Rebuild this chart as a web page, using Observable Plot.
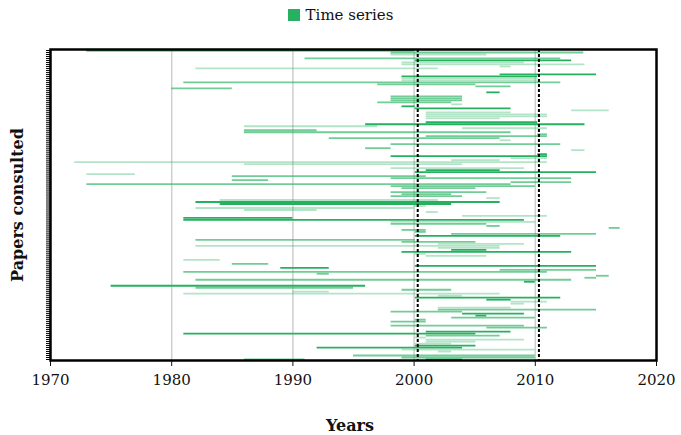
<!DOCTYPE html>
<html>
<head>
<meta charset="utf-8">
<script src="https://cdn.jsdelivr.net/npm/d3@7"></script>
<script src="https://cdn.jsdelivr.net/npm/@observablehq/plot@0.6"></script>
<style>
  html, body { margin: 0; padding: 0; background: #fff; }
  body { width: 681px; height: 435px; overflow: hidden; font-family: "DejaVu Serif", serif; }
  #legend { height: 30px; display: flex; align-items: center; justify-content: center; font-size: 15px; color: #111; }
  #legend .sw { width: 12px; height: 12px; background: #25b15f; margin-right: 6px; display: inline-block; }
</style>
</head>
<body>
<div id="legend"><span class="sw"></span><span>Time series</span></div>
<div id="chart"></div>
<script>
// Each segment: [paper row (0 = top), start year, end year, shade]
// shade: "d" = dark, "m" = medium, "l" = light
const segments = [
  [0, 1973, 2000, "d"],
  [1, 1998.1, 2014, "m"],
  [2, 1998.1, 2006, "l"],
  [4, 1991, 2012.1, "m"],
  [5, 2000.1, 2013, "d"],
  [6, 1999, 2009.1, "l"],
  [7, 1999, 2014.1, "l"],
  [8, 2007.1, 2008, "l"],
  [9, 1982, 2002, "l"],
  [12, 2007.1, 2015.05, "d"],
  [13, 1999, 2010.2, "d"],
  [14, 1999, 2010.2, "l"],
  [15, 1999, 2010.2, "l"],
  [16, 1981, 2012.1, "m"],
  [17, 1997, 2005.1, "m"],
  [18, 2005.1, 2008, "m"],
  [19, 1980, 1985, "m"],
  [21, 2006, 2007.1, "d"],
  [23, 1998.1, 2004, "m"],
  [24, 1998.1, 2004, "m"],
  [25, 1998.1, 2004, "m"],
  [26, 1997, 2003.1, "m"],
  [27, 2003.1, 2004, "l"],
  [28, 1999, 2000.1, "d"],
  [29, 2000.1, 2008, "d"],
  [30, 2013, 2016.1, "l"],
  [31, 2001, 2008, "l"],
  [32, 2001, 2011, "l"],
  [33, 2001, 2011, "l"],
  [34, 2001, 2007.1, "l"],
  [36, 2001, 2010.2, "d"],
  [37, 1996, 2014.1, "d"],
  [38, 1986, 1997, "l"],
  [39, 2004, 2011, "l"],
  [40, 1986, 1992, "m"],
  [41, 1986, 2008, "m"],
  [42, 2010.2, 2011, "m"],
  [43, 2001, 2011, "m"],
  [44, 1993, 2007.1, "m"],
  [45, 2007.1, 2008, "l"],
  [47, 1998.1, 2012.1, "m"],
  [49, 1996, 1998.1, "m"],
  [50, 2013, 2014.1, "l"],
  [52, 2010.2, 2011, "d"],
  [53, 1998.1, 2011, "d"],
  [54, 2008, 2011, "l"],
  [55, 2003.1, 2007.1, "l"],
  [56, 1972, 2011, "l"],
  [57, 1986, 2004, "l"],
  [59, 1998.1, 2009.1, "l"],
  [60, 2001, 2007.1, "d"],
  [61, 2000.1, 2015.05, "d"],
  [62, 1973, 1977, "l"],
  [63, 1985, 2001, "m"],
  [64, 1998.1, 2013, "m"],
  [65, 1985, 1988, "m"],
  [66, 2008, 2013, "m"],
  [67, 1973, 2008, "m"],
  [68, 1998.1, 2010, "m"],
  [69, 1999, 2005.1, "m"],
  [71, 1998.1, 2006, "m"],
  [72, 1999, 2003.1, "m"],
  [73, 1998.1, 2004, "m"],
  [74, 2006, 2007.1, "l"],
  [75, 1984, 2002, "l"],
  [76, 1982, 2007.1, "d"],
  [77, 1984, 2003.1, "d"],
  [78, 2000, 2001, "l"],
  [79, 1982, 2000, "l"],
  [80, 1986, 1992, "l"],
  [81, 2001, 2002, "l"],
  [83, 2004, 2011, "l"],
  [84, 1981, 1990, "d"],
  [85, 1981, 2009.1, "d"],
  [86, 1998.1, 2010, "l"],
  [87, 1998.1, 2006, "m"],
  [88, 2006, 2007.1, "m"],
  [89, 2016.1, 2017, "m"],
  [90, 1999, 2001, "m"],
  [91, 2000.1, 2001, "m"],
  [92, 2003.1, 2015.05, "m"],
  [93, 2000.1, 2012.1, "d"],
  [95, 1982, 2000.1, "m"],
  [96, 1999, 2005.1, "m"],
  [97, 2002, 2009.1, "l"],
  [98, 1982, 2007.1, "l"],
  [99, 2002, 2007.1, "l"],
  [100, 2003.1, 2006, "d"],
  [101, 1999, 2013, "d"],
  [102, 2000.1, 2001, "l"],
  [103, 2001, 2006, "l"],
  [105, 1981, 1984, "l"],
  [107, 1985, 1988, "m"],
  [108, 2000.1, 2015.05, "d"],
  [109, 1989, 1993, "d"],
  [110, 2007.1, 2015.05, "m"],
  [111, 1981, 2011, "m"],
  [112, 1992, 1993, "m"],
  [113, 2015.05, 2016.1, "m"],
  [114, 2014.1, 2015.05, "m"],
  [115, 1982, 2013, "m"],
  [116, 2009.1, 2010, "d"],
  [118, 1975, 1996, "d"],
  [119, 1982, 1995, "m"],
  [120, 1999, 2003.1, "m"],
  [121, 1990, 1993, "l"],
  [122, 1981, 2007.1, "l"],
  [123, 2002, 2004, "l"],
  [124, 2000.1, 2012.1, "d"],
  [125, 2006, 2008, "d"],
  [126, 2008, 2011, "l"],
  [127, 2008, 2009.1, "l"],
  [129, 2002, 2008, "l"],
  [130, 2002, 2015.05, "m"],
  [131, 1998.1, 2004, "m"],
  [132, 2004, 2009.1, "d"],
  [133, 2005.1, 2006, "d"],
  [134, 2003.1, 2010, "m"],
  [135, 2000.1, 2001, "m"],
  [136, 1998.1, 2001, "m"],
  [138, 1998.1, 2009.1, "m"],
  [139, 2006, 2011, "m"],
  [141, 2001, 2008, "d"],
  [142, 1981, 2005.1, "d"],
  [143, 2001, 2007.1, "m"],
  [144, 2000.1, 2001, "l"],
  [145, 2001, 2009.1, "l"],
  [146, 2001, 2005.1, "l"],
  [147, 2000.1, 2003.1, "l"],
  [148, 2000.1, 2005.1, "d"],
  [149, 1992, 2004, "d"],
  [150, 1999, 2010, "l"],
  [151, 2002, 2003.1, "l"],
  [153, 1995, 2010, "m"],
  [154, 1999, 2010, "m"],
  [155, 1986, 1991, "m"],
  [155, 2001, 2004, "d"]
];

const paperCount = 156;
const xTicks = [1970, 1980, 1990, 2000, 2010, 2020];
const gridYears = [1980, 1990, 2000, 2010];
const markerYears = [2000.3, 2010.3];
const shadeOpacity = {d: 1, m: 0.65, l: 0.35};
const seriesColor = "#25b15f";

const data = segments.map(([row, start, end, shade]) => ({row, start, end, shade}));

const W = 681, H = 405;
const chart = Plot.plot({
  width: W,
  height: H,
  marginTop: 19,
  marginBottom: 75,
  marginLeft: 50,
  marginRight: 25,
  style: {fontFamily: "DejaVu Serif, serif", fontSize: "15px", color: "#111", background: "#fff"},
  x: {domain: [1970, 2020]},
  y: {domain: [paperCount - 0.5, -0.5]},
  marks: [
    Plot.ruleX(gridYears, {stroke: "#cfcfcf", strokeWidth: 1.5}),
    Plot.ruleY(data, {
      y: "row", x1: "start", x2: "end",
      stroke: seriesColor,
      strokeOpacity: d => shadeOpacity[d.shade],
      strokeWidth: 1.8
    }),
    Plot.ruleX(markerYears, {stroke: "#000", strokeWidth: 2, strokeDasharray: "3,2"}),
    Plot.axisY({ticks: d3.range(paperCount), tickFormat: () => "", tickSize: 4, stroke: "#000", label: null}),
    Plot.axisX({ticks: xTicks, tickFormat: "d", tickSize: 6, tickPadding: 8, label: null, fontSize: 15}),
    Plot.frame({stroke: "#000", strokeWidth: 2.5})
  ]
});
document.getElementById("chart").appendChild(chart);

const svg = d3.select(chart);
svg.append("text")
  .attr("x", 350).attr("y", 401)
  .attr("text-anchor", "middle")
  .attr("font-weight", "bold")
  .attr("font-size", 16)
  .attr("font-family", "DejaVu Serif, serif")
  .attr("fill", "#111")
  .text("Years");
svg.append("text")
  .attr("transform", "translate(23,175) rotate(-90)")
  .attr("text-anchor", "middle")
  .attr("font-weight", "bold")
  .attr("font-size", 16)
  .attr("font-family", "DejaVu Serif, serif")
  .attr("fill", "#111")
  .text("Papers consulted");
</script>
</body>
</html>
